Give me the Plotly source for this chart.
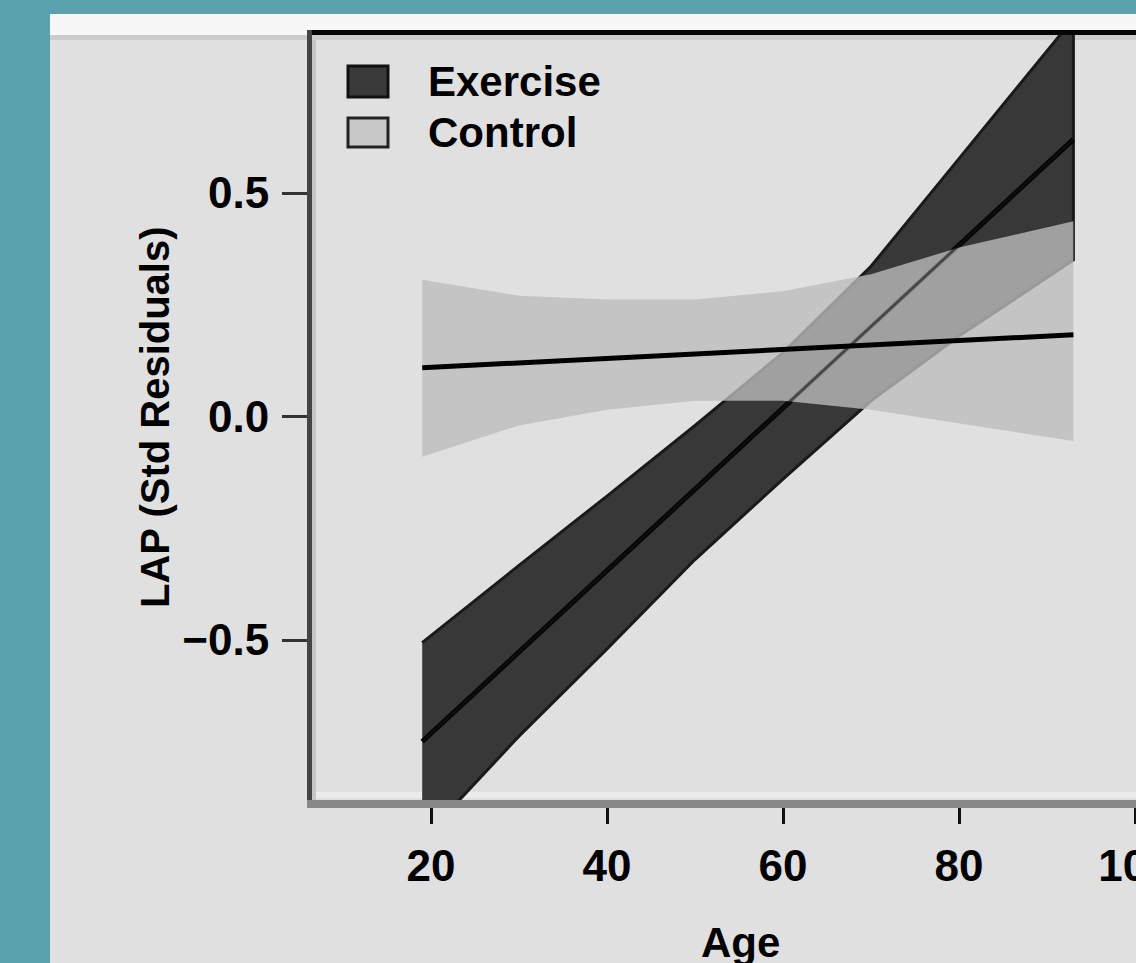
import plotly.graph_objects as go

# Fitted LAP residuals vs age, with confidence bands, per group
ages = [19, 30, 40, 50, 60, 70, 80, 93]

exercise_fit = [-0.727, -0.527, -0.345, -0.163, 0.019, 0.201, 0.383, 0.620]
exercise_upper = [-0.506, -0.333, -0.178, -0.020, 0.143, 0.336, 0.577, 0.890]
exercise_lower = [-0.947, -0.715, -0.520, -0.320, -0.140, 0.035, 0.180, 0.350]

control_fit = [0.109, 0.120, 0.130, 0.140, 0.150, 0.160, 0.170, 0.183]
control_upper = [0.306, 0.270, 0.262, 0.262, 0.280, 0.318, 0.378, 0.437]
control_lower = [-0.090, -0.020, 0.015, 0.035, 0.035, 0.015, -0.015, -0.055]

x_ticks = [20, 40, 60, 80, 100]
y_ticks = [-0.5, 0.0, 0.5]
y_tick_labels = ["\u22120.5", "0.0", "0.5"]
legend_labels = ["Exercise", "Control"]
x_title = "Age"
y_title = "LAP (Std Residuals)"

W, H = 1136, 963
L, R, T, B = 312, 1136, 35, 800  # plot-area edges in pixels

FONT = "Liberation Sans, Arial, sans-serif"
TEAL = "#59a2ae"
PANEL = "#e0e0e0"


def pxx(x):
    return (x - L) / (R - L)


def pxy(y):
    return (B - y) / (B - T)


def rect(x0, y0, x1, y1, color, layer="above", line=None):
    d = dict(type="rect", xref="paper", yref="paper",
             x0=pxx(x0), x1=pxx(x1), y0=pxy(y1), y1=pxy(y0),
             fillcolor=color, layer=layer, line=dict(width=0))
    if line:
        d["line"] = line
    return d


fig = go.Figure()

# Exercise confidence band
fig.add_trace(go.Scatter(
    x=ages + ages[::-1], y=exercise_upper + exercise_lower[::-1],
    fill="toself", fillcolor="#383838", mode="lines",
    line=dict(color="#1a1a1a", width=3), hoverinfo="skip", showlegend=False))
# Exercise fit
fig.add_trace(go.Scatter(
    x=ages, y=exercise_fit, mode="lines",
    line=dict(color="#000000", width=5), showlegend=False))
# Control confidence band (translucent, over the exercise band)
fig.add_trace(go.Scatter(
    x=ages + ages[::-1], y=control_upper + control_lower[::-1],
    fill="toself", fillcolor="rgba(188,188,188,0.79)", mode="lines",
    line=dict(width=0), hoverinfo="skip", showlegend=False))
# Exercise fit seen through the control band
fig.add_trace(go.Scatter(
    x=ages, y=exercise_fit, mode="lines",
    line=dict(color="rgba(20,20,20,0.6)", width=3), showlegend=False))
# Control fit
fig.add_trace(go.Scatter(
    x=ages, y=control_fit, mode="lines",
    line=dict(color="#000000", width=5), showlegend=False))

shapes = [
    # page frame
    rect(0, 0, 50, H, TEAL, layer="below"),
    rect(0, 0, W, 14, TEAL, layer="below"),
    rect(50, 14, W, 35, "#f7f7f7", layer="below"),
    rect(50, 35, W, 40, "#cccccc", layer="below"),
    rect(316, 792, W, 798, "#ececec", layer="below"),
    rect(312, 40, 316, 800, "#c6c6c6", layer="below"),
    # plot frame
    rect(307, 30, W, 35, "#050505"),
    rect(307, 30, 312, 808, "#444444"),
    rect(307, 800, W, 808, "#888888"),
    # legend keys
    rect(348, 66, 388, 97, "#3a3a3a", line=dict(color="#111111", width=3)),
    rect(348, 118, 388, 147, "#c8c8c8", line=dict(color="#222222", width=3)),
]

annotations = [
    dict(text=legend_labels[0], x=pxx(426), y=pxy(81), xref="paper", yref="paper",
         xanchor="left", yanchor="middle", showarrow=False,
         font=dict(family=FONT, size=42, color="#000", weight="bold")),
    dict(text=legend_labels[1], x=pxx(426), y=pxy(132), xref="paper", yref="paper",
         xanchor="left", yanchor="middle", showarrow=False,
         font=dict(family=FONT, size=42, color="#000", weight="bold")),
    dict(text=x_title, x=pxx(740), y=pxy(942), xref="paper", yref="paper",
         xanchor="center", yanchor="middle", showarrow=False,
         font=dict(family=FONT, size=42, color="#000", weight="bold")),
    dict(text=y_title, x=pxx(155), y=pxy(417), xref="paper", yref="paper",
         xanchor="center", yanchor="middle", showarrow=False, textangle=-90,
         font=dict(family=FONT, size=40, color="#000", weight="bold")),
]

fig.update_layout(
    width=W, height=H,
    margin=dict(l=L, r=W - R, t=T, b=H - B, pad=0),
    paper_bgcolor=PANEL, plot_bgcolor=PANEL,
    shapes=shapes, annotations=annotations,
    showlegend=False,
    xaxis=dict(range=[6.477, 100.114], tickvals=x_ticks, ticks="outside",
               ticklen=23, tickwidth=3, tickcolor="#111111",
               ticklabelstandoff=4, ticklabeloverflow="allow",
               showgrid=False, zeroline=False, showline=False, automargin=False,
               tickfont=dict(family=FONT, size=44, color="#000", weight="bold")),
    yaxis=dict(range=[-0.8579, 0.8535], tickvals=y_ticks, ticktext=y_tick_labels,
               ticks="outside", ticklen=29, tickwidth=3, tickcolor="#333333",
               ticklabelstandoff=4,
               showgrid=False, zeroline=False, showline=False, automargin=False,
               tickfont=dict(family=FONT, size=44, color="#000", weight="bold")),
)

fig.write_html("out.html")
